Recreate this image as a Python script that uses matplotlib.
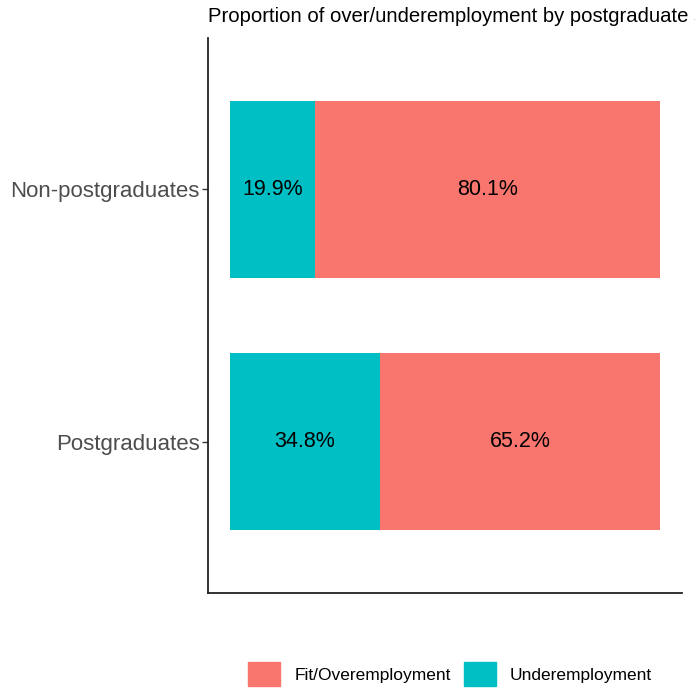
import matplotlib.pyplot as plt
from matplotlib.patches import Patch

plt.rcParams['font.family'] = ['Liberation Sans', 'DejaVu Sans']

# data
groups = ['Postgraduates', 'Non-postgraduates']
under = [0.348, 0.199]
fit_over = [0.652, 0.801]
under_lbl = ['34.8%', '19.9%']
fit_lbl = ['65.2%', '80.1%']

C_FIT = '#F8766D'
C_UNDER = '#00BFC4'

fig = plt.figure(figsize=(6.95, 6.88), dpi=100)
W, H = 695, 688
ax = fig.add_axes([208 / W, 1 - 593 / H, (682 - 208) / W, (593 - 38) / H])

ypos = [1, 2]
ax.barh(ypos, under, height=0.7, color=C_UNDER)
ax.barh(ypos, fit_over, left=under, height=0.7, color=C_FIT)

for y, u, f, ul, fl in zip(ypos, under, fit_over, under_lbl, fit_lbl):
    ax.text(u / 2, y, ul, ha='center', va='center', fontsize=15.5, color='black')
    ax.text(u + f / 2, y, fl, ha='center', va='center', fontsize=15.5, color='black')

ax.set_xlim(-0.05, 1.05)
ax.set_ylim(0.4, 2.6)
ax.set_yticks(ypos)
ax.set_yticklabels(groups, fontsize=16, color='#4D4D4D')
ax.set_xticks([])
ax.tick_params(axis='y', length=4, width=1, color='#333333', pad=2)
for s in ['top', 'right']:
    ax.spines[s].set_visible(False)
for s in ['left', 'bottom']:
    ax.spines[s].set_linewidth(1.3)
    ax.spines[s].set_color('#222222')

# title runs past the right edge in the reference
fig.text(208 / W, 1 - 17 / H, 'Proportion of over/underemployment by postgraduate status',
         ha='left', va='center', fontsize=14.6, color='black')

handles = [Patch(color=C_FIT, label='Fit/Overemployment'),
           Patch(color=C_UNDER, label='Underemployment')]
fig.legend(handles=handles, loc='center', bbox_to_anchor=(450 / W, 1 - 674 / H),
           ncol=2, frameon=False, fontsize=12.5, handlelength=1.85,
           handleheight=1.8, handletextpad=0.8, columnspacing=0.75,
           borderpad=0)

fig.savefig('out.png', dpi=100)
